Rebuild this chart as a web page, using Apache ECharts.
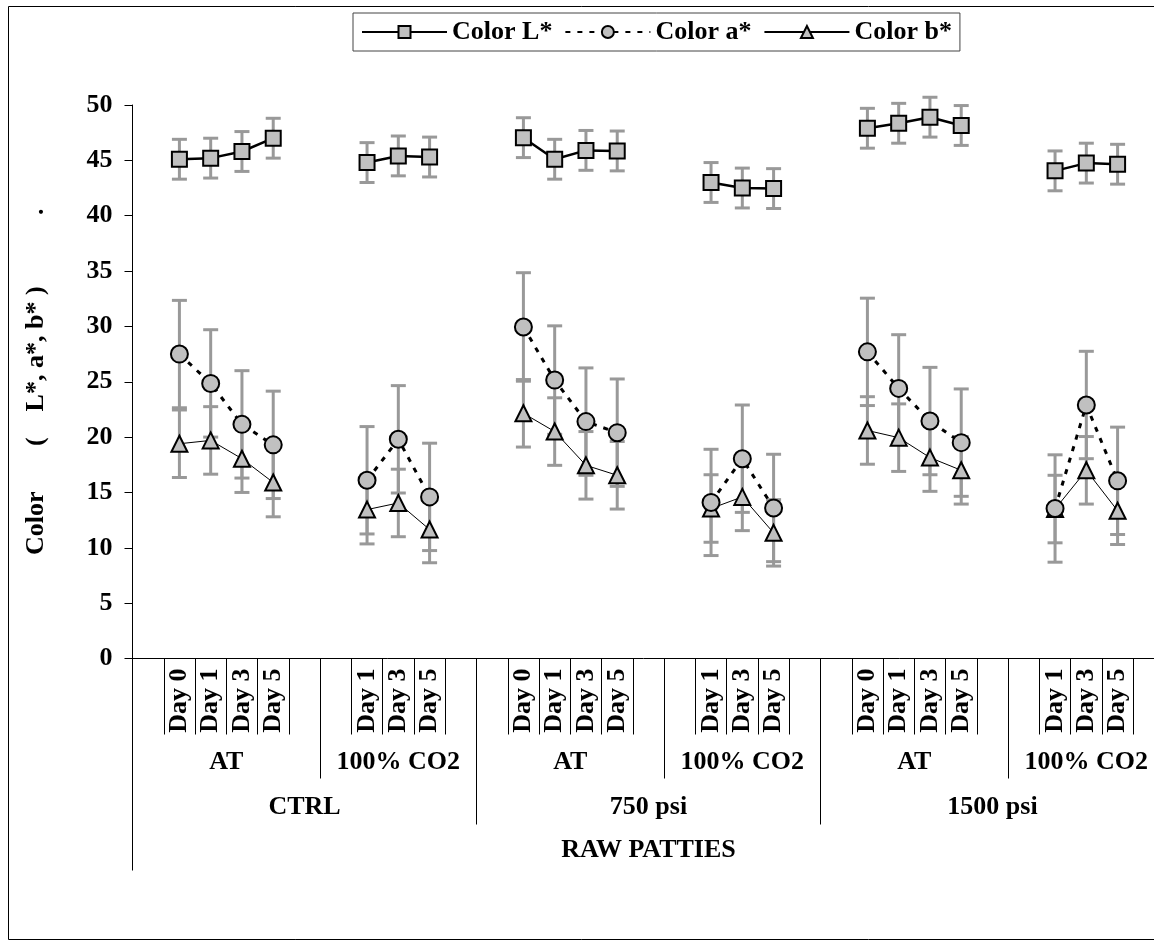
<!DOCTYPE html>
<html>
<head>
<meta charset="utf-8">
<script src="https://cdn.jsdelivr.net/npm/echarts@6/dist/echarts.min.js"></script>
<style>
html,body{margin:0;padding:0;background:#fff;}
#chart{width:1154px;height:945px;}
</style>
</head>
<body>
<div id="chart"></div>
<script>
// ---- data ----
const dayLabels = [
  '', 'Day 0', 'Day 1', 'Day 3', 'Day 5', '', '', 'Day 1', 'Day 3', 'Day 5', '',
  '', 'Day 0', 'Day 1', 'Day 3', 'Day 5', '', '', 'Day 1', 'Day 3', 'Day 5', '',
  '', 'Day 0', 'Day 1', 'Day 3', 'Day 5', '', '', 'Day 1', 'Day 3', 'Day 5', ''
];
const atmosphereLabels = ['AT', '100% CO2', 'AT', '100% CO2', 'AT', '100% CO2'];
const atmosphereSpans = [6, 5, 6, 5, 6, 5];
const pressureLabels = ['CTRL', '750 psi', '1500 psi'];
const pressureSpans = [11, 11, 11];
const productLabels = ['RAW PATTIES'];
const productSpans = [33];

const colorL = [
  null, 45.1, 45.2, 45.8, 47.0, null, null, 44.8, 45.4, 45.3, null,
  null, 47.05, 45.1, 45.9, 45.85, null, null, 43.0, 42.5, 42.45, null,
  null, 47.9, 48.35, 48.9, 48.15, null, null, 44.05, 44.75, 44.65, null
];
const colorA = [
  null, 27.5, 24.85, 21.15, 19.3, null, null, 16.1, 19.8, 14.6, null,
  null, 29.95, 25.15, 21.4, 20.4, null, null, 14.1, 18.05, 13.6, null,
  null, 27.7, 24.4, 21.45, 19.5, null, null, 13.55, 22.9, 16.05, null
];
const colorB = [
  null, 19.4, 19.7, 18.05, 15.9, null, null, 13.45, 14.05, 11.65, null,
  null, 22.15, 20.5, 17.45, 16.55, null, null, 13.55, 14.6, 11.35, null,
  null, 20.6, 19.95, 18.15, 17.0, null, null, 13.5, 17.0, 13.35, null
];
const errL = [
  null, 1.8, 1.8, 1.8, 1.8, null, null, 1.8, 1.8, 1.8, null,
  null, 1.8, 1.8, 1.8, 1.8, null, null, 1.8, 1.8, 1.8, null,
  null, 1.8, 1.8, 1.8, 1.8, null, null, 1.8, 1.8, 1.8, null
];
const errA = [
  null, 4.85, 4.85, 4.85, 4.85, null, null, 4.85, 4.85, 4.85, null,
  null, 4.9, 4.9, 4.85, 4.85, null, null, 4.8, 4.85, 4.85, null,
  null, 4.85, 4.85, 4.85, 4.85, null, null, 4.85, 4.85, 4.85, null
];
const errB = [
  null, 3.05, 3.05, 3.05, 3.1, null, null, 3.1, 3.05, 3.0, null,
  null, 3.05, 3.05, 3.05, 3.05, null, null, 3.05, 3.05, 3.0, null,
  null, 3.05, 3.05, 3.05, 3.05, null, null, 3.05, 3.05, 3.05, null
];
const yTicks = {min: 0, max: 50, step: 5};
const seriesNames = ['Color L*', 'Color a*', 'Color b*'];
const yTitle = 'Color       (    L*, a*, b* )           .';

// ---- helpers ----
const FONT = 'Liberation Serif';
const txt = {fontFamily: FONT, fontWeight: 'bold', fontSize: 26, color: '#000'};

function groupInfo(spans) {
  const bounds = [0];
  spans.forEach(s => bounds.push(bounds[bounds.length - 1] + s));
  const centers = spans.map((s, i) => bounds[i] + s / 2);
  return {bounds, centers};
}
const N = dayLabels.length;
// day-level separators: boundaries next to a non-blank category
const dayTicks = [];
for (let i = 1; i < N; i++) {
  if (dayLabels[i - 1] !== '' || dayLabels[i] !== '') dayTicks.push(i);
}
const atm = groupInfo(atmosphereSpans);
const prs = groupInfo(pressureSpans);
const prd = groupInfo(productSpans);
const atmTicks = atm.bounds.filter(b => b > 0 && b < N && !prs.bounds.includes(b));
const prsTicks = prs.bounds.filter(b => b > 0);
const prdTicks = [0];

function levelAxis(ticks, tickLen, centers, labels, margin) {
  return {
    type: 'value', gridIndex: 0, position: 'bottom', min: 0, max: N,
    axisLine: {show: false},
    splitLine: {show: false},
    axisTick: {show: true, customValues: ticks, length: tickLen, lineStyle: {color: '#000', width: 1}},
    axisLabel: {
      show: labels.length > 0, customValues: centers, margin: margin,
      formatter: function (v) {
        const k = centers.findIndex(c => Math.abs(c - v) < 1e-6);
        return k >= 0 ? labels[k] : '';
      },
      ...txt
    }
  };
}

function errData(vals, errs) {
  const out = [];
  vals.forEach((v, i) => { if (v != null) out.push([i, v - errs[i], v + errs[i]]); });
  return out;
}
function renderErr(params, api) {
  const x = api.value(0);
  const top = api.coord([x, api.value(2)]);
  const bot = api.coord([x, api.value(1)]);
  const hw = 7.5;
  const st = {stroke: '#999999', lineWidth: 3};
  return {
    type: 'group',
    children: [
      {type: 'line', shape: {x1: top[0], y1: top[1], x2: bot[0], y2: bot[1]}, style: st},
      {type: 'line', shape: {x1: top[0] - hw, y1: top[1], x2: top[0] + hw, y2: top[1]}, style: st},
      {type: 'line', shape: {x1: bot[0] - hw, y1: bot[1], x2: bot[0] + hw, y2: bot[1]}, style: st}
    ]
  };
}
function errSeries(vals, errs) {
  return {type: 'custom', renderItem: renderErr, data: errData(vals, errs),
    encode: {x: 0, y: [1, 2]}, z: 1, silent: true, xAxisIndex: 0, yAxisIndex: 0};
}
const markerStyle = {color: '#c0c0c0', borderColor: '#000', borderWidth: 2};

const chart = echarts.init(document.getElementById('chart'), null, {renderer: 'canvas'});
chart.setOption({
  animation: false,
  backgroundColor: '#fff',
  graphic: [{
    type: 'rect', silent: true, z: -10,
    shape: {x: 8.5, y: 6.5, width: 1160, height: 933},
    style: {fill: 'none', stroke: '#000', lineWidth: 1}
  }],
  legend: {
    data: seriesNames, left: 353, top: 13,
    itemWidth: 85, itemHeight: 15, itemGap: 12,
    padding: [6, 8], borderColor: '#444', borderWidth: 1,
    textStyle: txt
  },
  grid: {left: 132.5, right: -10.5, top: 105, bottom: 286.5, containLabel: false, outerBoundsMode: 'none'},
  xAxis: [
    {
      type: 'category', data: dayLabels, gridIndex: 0, position: 'bottom', boundaryGap: true,
      axisLine: {lineStyle: {color: '#000', width: 1}},
      axisTick: {show: false},
      splitLine: {show: false},
      axisLabel: {interval: 0, rotate: 90, margin: 10, ...txt}
    },
    levelAxis(dayTicks, 76, [], [], 0),
    levelAxis(atmTicks, 120, atm.centers, atmosphereLabels, 91),
    levelAxis(prsTicks, 166, prs.centers, pressureLabels, 136),
    levelAxis(prdTicks, 212, prd.centers, productLabels, 179)
  ],
  yAxis: {
    type: 'value', min: yTicks.min, max: yTicks.max, interval: yTicks.step,
    axisLine: {show: true, lineStyle: {color: '#000', width: 1}},
    axisTick: {show: true, inside: false, length: 8, lineStyle: {color: '#000'}},
    splitLine: {show: false},
    axisLabel: {margin: 20, ...txt},
    name: yTitle, nameLocation: 'middle', nameGap: 83, nameRotate: 90,
    nameTextStyle: txt
  },
  series: [
    errSeries(colorL, errL),
    errSeries(colorA, errA),
    errSeries(colorB, errB),
    {
      name: seriesNames[0], type: 'line', data: colorL, connectNulls: false,
      symbol: 'rect', symbolSize: 15, showSymbol: true, showAllSymbol: true,
      itemStyle: markerStyle, lineStyle: {color: '#000', width: 2.5}, z: 5
    },
    {
      name: seriesNames[1], type: 'line', data: colorA, connectNulls: false,
      symbol: 'circle', symbolSize: 17, showSymbol: true, showAllSymbol: true,
      itemStyle: markerStyle, lineStyle: {color: '#000', width: 3, type: [5, 7]}, z: 4
    },
    {
      name: seriesNames[2], type: 'line', data: colorB, connectNulls: false,
      symbol: 'triangle', symbolSize: 16, showSymbol: true, showAllSymbol: true,
      itemStyle: markerStyle, lineStyle: {color: '#000', width: 1}, z: 3
    }
  ]
});
</script>
</body>
</html>
